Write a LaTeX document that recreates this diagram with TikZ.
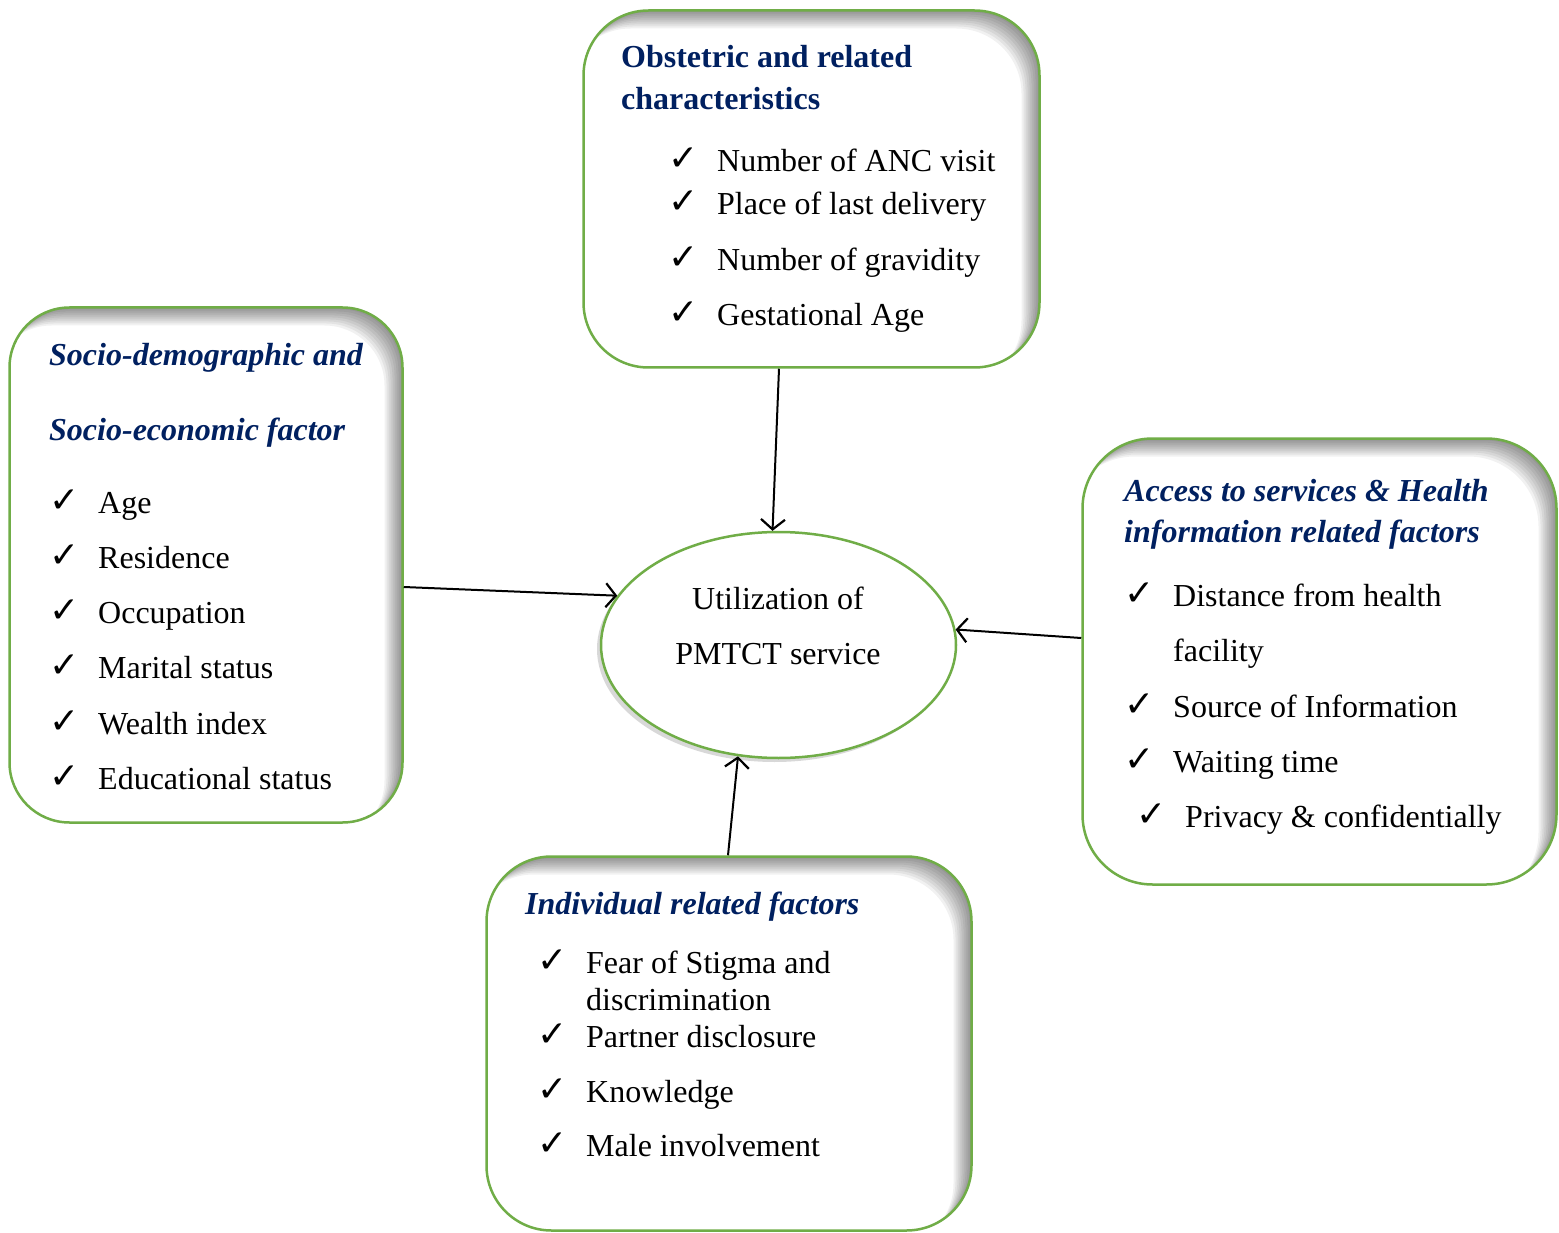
\documentclass[tikz,border=0pt]{standalone}
\usepackage{fontspec}
\setmainfont{Liberation Serif}
\newfontfamily\symfont{DejaVu Sans}
\usetikzlibrary{shapes.geometric,arrows.meta,shadows}
\definecolor{boxgreen}{RGB}{112,173,71}
\definecolor{navy}{RGB}{0,32,96}
\newcommand\bodysize{\fontsize{32}{38}\selectfont}
\tikzset{
  x=1pt, y=-1pt,
  shadowin/.style={path picture={
    \foreach \d in {2,4,...,18}{
      \fill[black, opacity=0.055, even odd rule, rounded corners=#1]
        (path picture bounding box.north west) rectangle
        (path picture bounding box.south east)
        ([shift={(-\d pt,-\d pt)}]path picture bounding box.north west) rectangle
        ([shift={(-\d pt,-\d pt)}]path picture bounding box.south east);
    }}},
  box/.style={draw=boxgreen, line width=2.5pt, fill=white, rounded corners=#1,
    shadowin=#1, inner sep=0pt},
  ttl/.style={anchor=base west, inner sep=0pt, text=navy, font=\bodysize\bfseries},
  ttli/.style={ttl, font=\bodysize\bfseries\itshape},
  item/.style={anchor=base west, inner sep=0pt, font=\bodysize},
  chk/.style={anchor=base west, inner sep=0pt, font=\symfont\fontsize{36}{36}\selectfont},
  conn/.style={line width=2pt, -{Straight Barb[length=10pt,width=24pt,line width=2.2pt]}}
}
\begin{document}
\begin{tikzpicture}
\useasboundingbox[fill=white] (0,0) rectangle (1559,1233);

% boxes
\node[box=65pt, minimum width=456pt, minimum height=357pt] (obs) at (811.5,189) {};
\node[box=60pt, minimum width=393pt, minimum height=515pt] (soc) at (206,565) {};
\node[box=70pt, minimum width=474pt, minimum height=446pt] (acc) at (1319.5,661.5) {};
\node[box=65pt, minimum width=485pt, minimum height=374pt] (ind) at (729,1043.5) {};

% central ellipse
\node[ellipse, draw=boxgreen, line width=2.5pt, fill=white, inner sep=0pt,
      minimum width=355pt, minimum height=226pt,
      drop shadow={shadow xshift=-4pt, shadow yshift=-4pt, opacity=0.3}] (util) at (778.5,645) {};
\node[anchor=base, inner sep=0pt, font=\bodysize] (u1) at (778,609) {Utilization of};
\node[anchor=base, inner sep=0pt, font=\bodysize] (u2) at (778,664) {PMTCT service};

% top box text
\node[ttl] (o0) at (621,68) {Obstetric and related};
\node[ttl] (o00) at (621,110) {characteristics};
\node[chk] (oc1) at (668,171) {✓};
\node[item] (o1) at (717,172) {Number of ANC visit};
\node[chk] (oc2) at (668,214) {✓};
\node[item] (o2) at (717,215) {Place of last delivery};
\node[chk] (oc3) at (668,270) {✓};
\node[item] (o3) at (717,271) {Number of gravidity};
\node[chk] (oc4) at (668,325) {✓};
\node[item] (o4) at (717,326) {Gestational Age};

% left box text
\node[ttli] (s0) at (49,366) {Socio-demographic and};
\node[ttli] (s00) at (49,440) {Socio-economic factor};
\node[chk] (sc1) at (49,512) {✓};
\node[item] (s1) at (98,513) {Age};
\node[chk] (sc2) at (49,567) {✓};
\node[item] (s2) at (98,568) {Residence};
\node[chk] (sc3) at (49,622) {✓};
\node[item] (s3) at (98,623) {Occupation};
\node[chk] (sc4) at (49,677) {✓};
\node[item] (s4) at (98,678) {Marital status};
\node[chk] (sc5) at (49,733) {✓};
\node[item] (s5) at (98,734) {Wealth index};
\node[chk] (sc6) at (49,788) {✓};
\node[item] (s6) at (98,789) {Educational status};

% right box text
\node[ttli] (a0) at (1124,501) {Access to services \& Health};
\node[ttli] (a00) at (1124,542) {information related factors};
\node[chk] (ac1) at (1124,605) {✓};
\node[item] (a1) at (1173,606) {Distance from health};
\node[item] (a1b) at (1173,661) {facility};
\node[chk] (ac2) at (1124,716) {✓};
\node[item] (a2) at (1173,717) {Source of Information};
\node[chk] (ac3) at (1124,771) {✓};
\node[item] (a3) at (1173,772) {Waiting time};
\node[chk] (ac4) at (1136,826) {✓};
\node[item] (a4) at (1185,827) {Privacy \& confidentially};

% bottom box text
\node[ttli] (i0) at (525,914) {Individual related factors};
\node[chk] (ic1) at (537,972) {✓};
\node[item] (i1) at (586,973) {Fear of Stigma and};
\node[item] (i1b) at (586,1010) {discrimination};
\node[chk] (ic2) at (537,1046) {✓};
\node[item] (i2) at (586,1047) {Partner disclosure};
\node[chk] (ic3) at (537,1101) {✓};
\node[item] (i3) at (586,1102) {Knowledge};
\node[chk] (ic4) at (537,1155) {✓};
\node[item] (i4) at (586,1156) {Male involvement};

% connectors
\draw[conn] ([xshift=-32.5pt]obs.south) -- (util.93);
\draw[conn] ([yshift=-22pt]soc.east) -- (util.163);
\draw[conn] ([yshift=23.5pt]acc.west) -- (util.5);
\draw[conn] ([xshift=-1pt]ind.north) -- (util.250);
\end{tikzpicture}
\end{document}
